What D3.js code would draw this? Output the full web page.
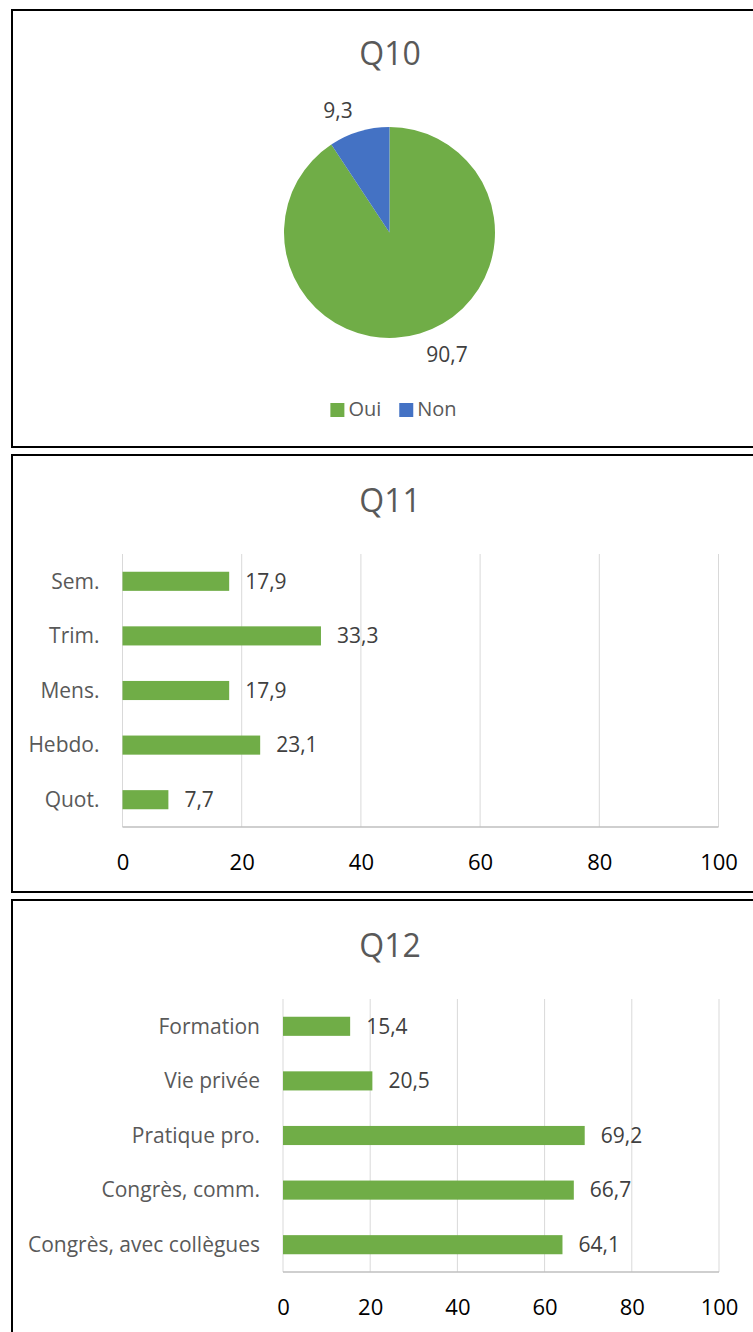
<!DOCTYPE html>
<html>
<head>
<meta charset="utf-8">
<script src="https://cdn.jsdelivr.net/npm/d3@7"></script>
<style>
  html, body { margin: 0; padding: 0; background: #fff; }
  svg { display: block; font-family: "Open Sans", sans-serif; }
</style>
</head>
<body>
<svg id="chart" width="753" height="1332"></svg>
<script>
// ---- Data ----
const q10Labels = ["Oui", "Non"];
const q10Values = [90.7, 9.3];

const q11Categories = ["Sem.", "Trim.", "Mens.", "Hebdo.", "Quot."];
const q11Values = [17.9, 33.3, 17.9, 23.1, 7.7];

const q12Categories = ["Formation", "Vie privée", "Pratique pro.", "Congrès, comm.", "Congrès, avec collègues"];
const q12Values = [15.4, 20.5, 69.2, 66.7, 64.1];

const xTicks = [0, 20, 40, 60, 80, 100];
const titles = ["Q10", "Q11", "Q12"];

// ---- Style ----
const GREEN = "#70AD47", BLUE = "#4472C4";
const fmt = v => String(v).replace(".", ",");

const svg = d3.select("#chart");

// Panel borders
const panels = [
  {y0: 10, y1: 447},
  {y0: 455, y1: 892},
  {y0: 900, y1: 1345}
];
svg.selectAll("rect.panel").data(panels).enter().append("rect")
  .attr("class", "panel")
  .attr("x", 12).attr("y", d => d.y0)
  .attr("width", 760).attr("height", d => d.y1 - d.y0)
  .attr("fill", "none").attr("stroke", "#000").attr("stroke-width", 2);

// Titles
const titleY = [65, 512, 957];
svg.selectAll("text.title").data(titles).enter().append("text")
  .attr("class", "title")
  .attr("x", 390).attr("y", (d, i) => titleY[i])
  .attr("text-anchor", "middle")
  .attr("font-size", 32).attr("fill", "#595959")
  .text(d => d);

// ---- Q10 pie ----
const cx = 389.5, cy = 232.5, R = 105.5;
const pie = d3.pie().sort(null).value(d => d.v).startAngle(0).endAngle(2 * Math.PI);
const pieData = pie(q10Labels.map((l, i) => ({l, v: q10Values[i]})));
const color = d3.scaleOrdinal().domain(q10Labels).range([GREEN, BLUE]);
const arc = d3.arc().innerRadius(0).outerRadius(R);
const gPie = svg.append("g").attr("transform", `translate(${cx},${cy})`);
gPie.selectAll("path").data(pieData).enter().append("path")
  .attr("d", arc).attr("fill", d => color(d.data.l));

const labelR = R + 22;
gPie.selectAll("text").data(pieData).enter().append("text")
  .each(function(d) {
    const a = (d.startAngle + d.endAngle) / 2;
    const x = Math.sin(a) * labelR, y = -Math.cos(a) * labelR;
    d3.select(this).attr("x", x).attr("y", y)
      .attr("text-anchor", x < 0 ? "end" : "start");
  })
  .attr("dy", "0.35em")
  .attr("font-size", 21).attr("fill", "#404040")
  .text(d => fmt(d.data.v));

// Legend
const legend = svg.append("g");
let lx = 0;
const items = legend.selectAll("g").data(q10Labels).enter().append("g");
items.append("rect").attr("width", 14).attr("height", 14).attr("y", -13)
  .attr("fill", d => color(d));
items.append("text").attr("x", 18).attr("y", 0)
  .attr("font-size", 20).attr("fill", "#595959").text(d => d);
items.each(function() {
  const g = d3.select(this);
  g.attr("transform", `translate(${lx},0)`);
  lx += 18 + g.select("text").node().getComputedTextLength() + 18;
});
const legW = lx - 18;
legend.attr("transform", `translate(${393.5 - legW / 2},416)`);

// ---- Bar charts ----
function barChart(cats, vals, x0, x1, yTop, yBot) {
  const x = d3.scaleLinear().domain([0, 100]).range([x0, x1]);
  const y = d3.scaleBand().domain(cats).range([yTop, yBot])
    .paddingInner(0.65).paddingOuter(0.325);
  const g = svg.append("g");
  // gridlines
  g.selectAll("line.grid").data(xTicks).enter().append("line")
    .attr("x1", d => x(d)).attr("x2", d => x(d))
    .attr("y1", yTop).attr("y2", yBot)
    .attr("stroke", "#D9D9D9").attr("stroke-width", 1);
  // axis line
  g.append("line").attr("x1", x0).attr("x2", x1)
    .attr("y1", yBot).attr("y2", yBot)
    .attr("stroke", "#BFBFBF").attr("stroke-width", 1.5);
  // bars
  g.selectAll("rect.bar").data(cats).enter().append("rect")
    .attr("x", x(0)).attr("y", d => y(d))
    .attr("width", (d, i) => x(vals[i]) - x(0))
    .attr("height", y.bandwidth())
    .attr("fill", GREEN);
  // value labels
  g.selectAll("text.val").data(cats).enter().append("text")
    .attr("x", (d, i) => x(vals[i]) + 16)
    .attr("y", d => y(d) + y.bandwidth() / 2)
    .attr("dy", "0.35em")
    .attr("font-size", 21).attr("fill", "#404040")
    .text((d, i) => fmt(vals[i]));
  // category labels
  g.selectAll("text.cat").data(cats).enter().append("text")
    .attr("x", x0 - 23)
    .attr("y", d => y(d) + y.bandwidth() / 2)
    .attr("dy", "0.35em")
    .attr("text-anchor", "end")
    .attr("font-size", 21).attr("fill", "#595959")
    .text(d => d);
  // tick labels
  const axis = d3.axisBottom(x).tickValues(xTicks).tickSize(0).tickPadding(0);
  const ag = g.append("g").attr("transform", `translate(0,${yBot})`).call(axis);
  ag.select(".domain").remove();
  ag.selectAll("text")
    .attr("y", 43).attr("dy", 0)
    .attr("font-size", 22).attr("font-family", "Open Sans, sans-serif")
    .attr("fill", "#000");
}

barChart(q11Categories, q11Values, 122.5, 718.5, 554, 827);
barChart(q12Categories, q12Values, 283, 719, 999, 1272);
</script>
</body>
</html>
